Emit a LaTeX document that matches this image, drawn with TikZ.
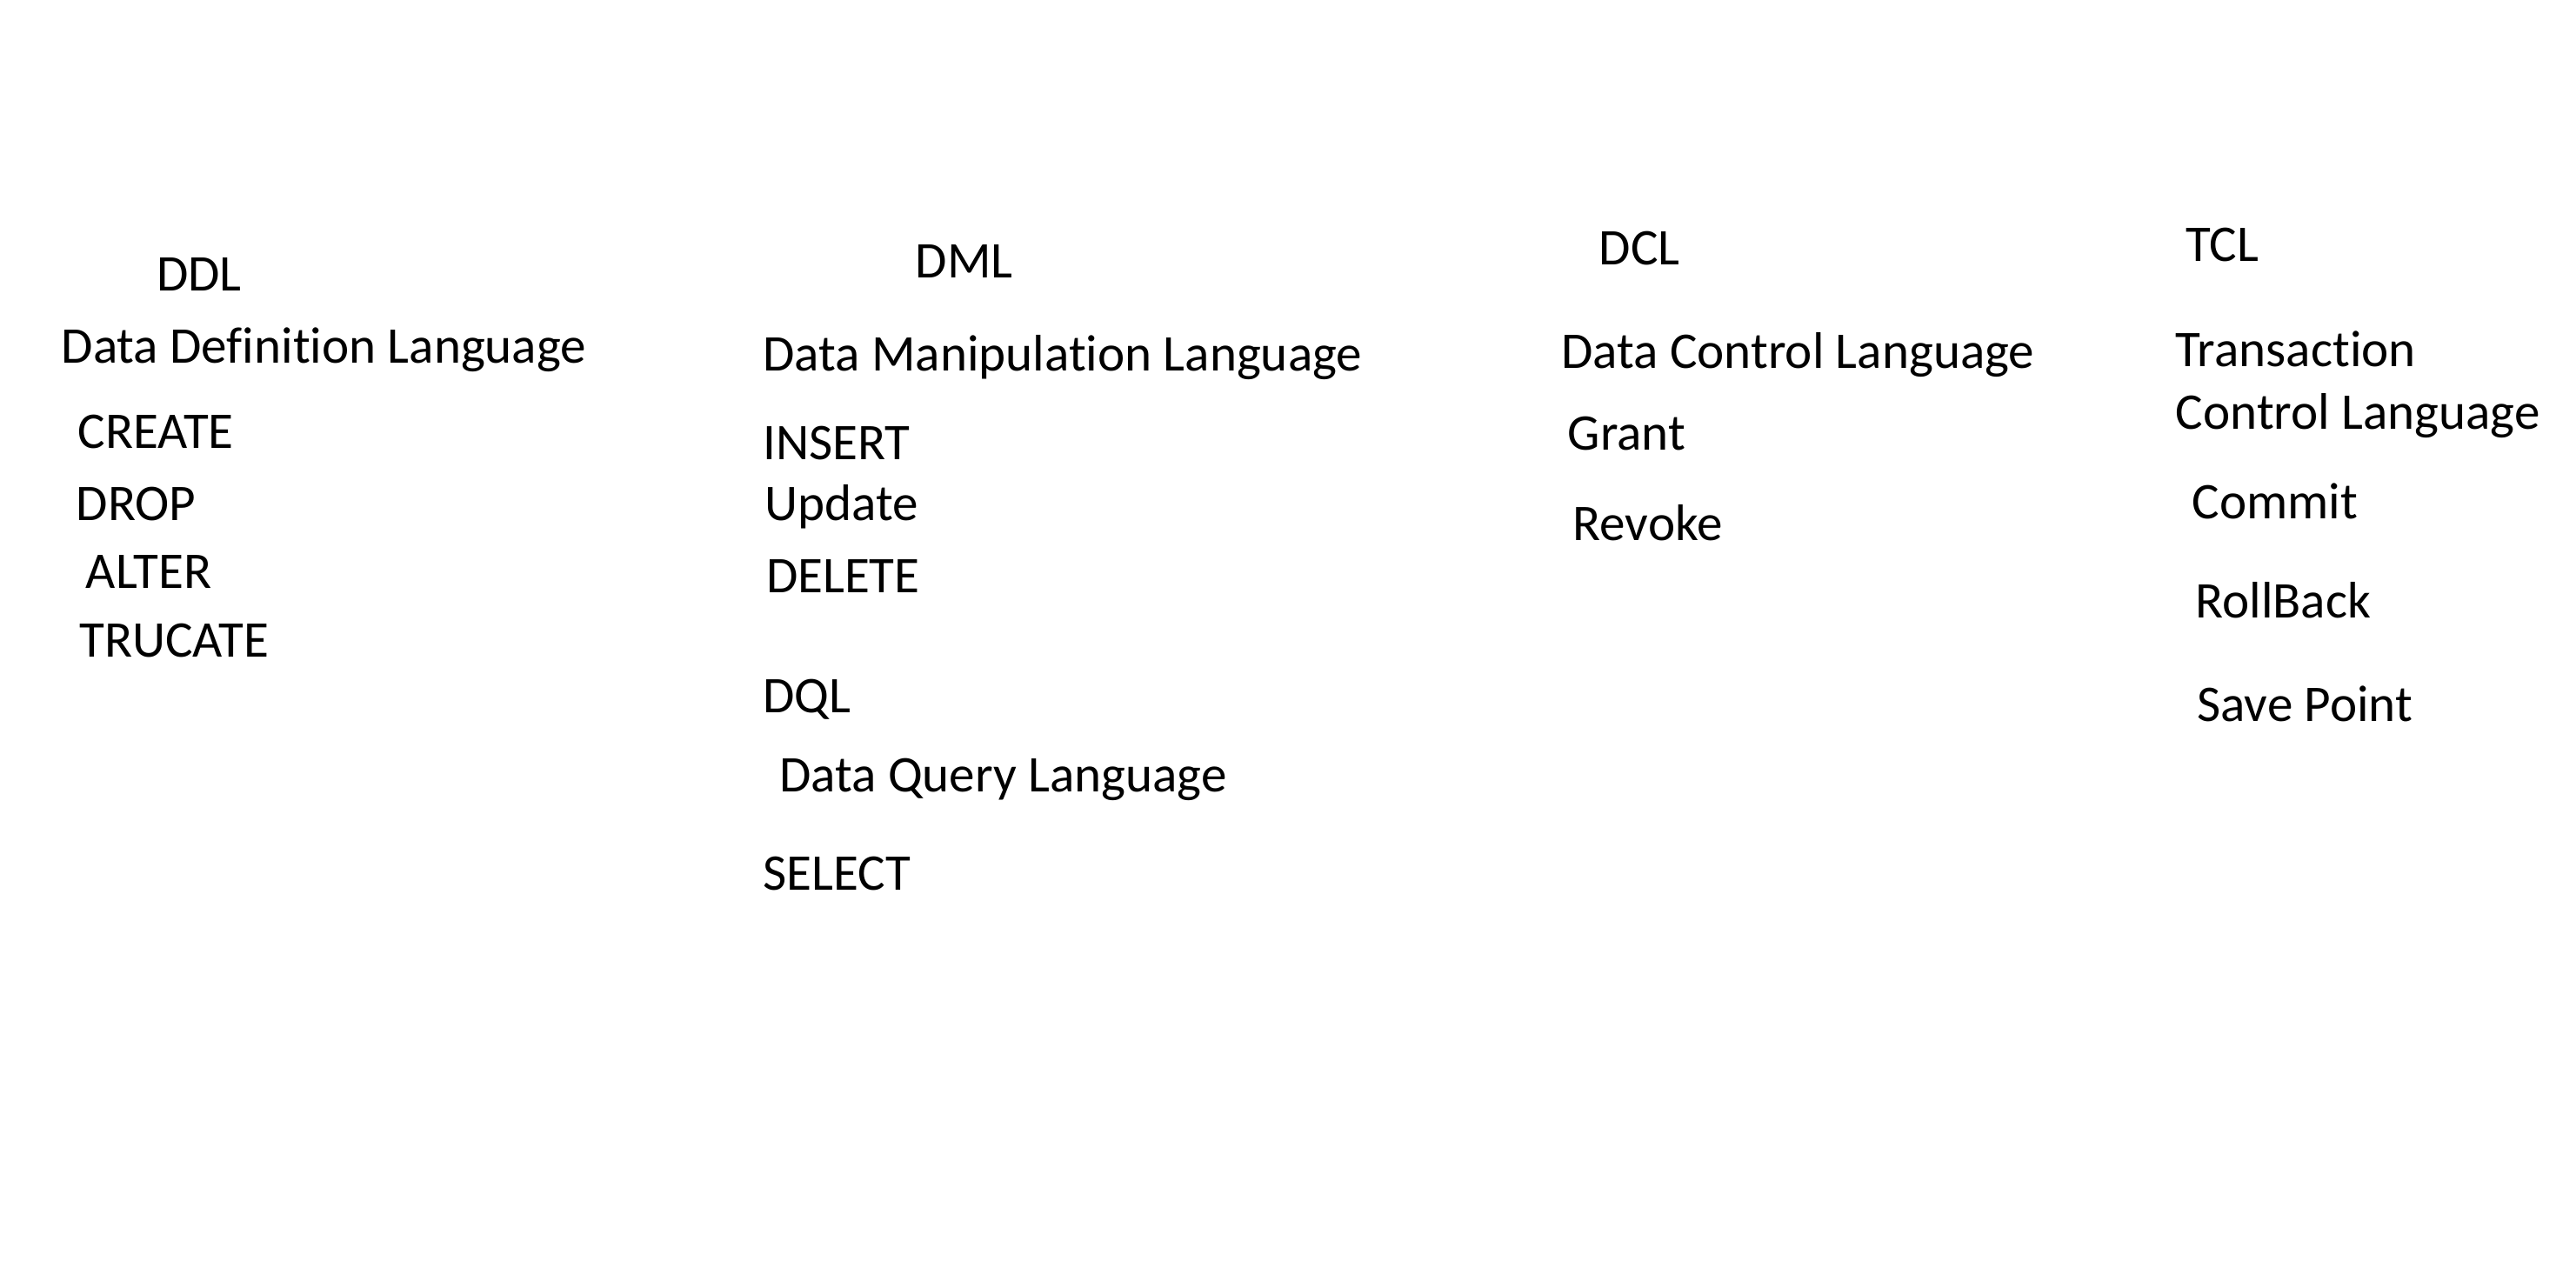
\documentclass[tikz,border=0pt]{standalone}
\usepackage{fontspec}
\setmainfont{Carlito}[Ligatures={NoCommon,NoRare,NoDiscretionary,NoContextual}]
\begin{document}
\begin{tikzpicture}[x=0.5pt,y=-0.5pt,
  lbl/.style={anchor=base west,inner sep=0pt,font=\fontsize{15.65pt}{18pt}\selectfont}]
\useasboundingbox[fill=white] (0,0) rectangle (1568,771.3);
% DDL column
\node[lbl] (ddl) at (95,177) {DDL};
\node[lbl] (ddlf) at (37,221) {Data Definition Language};
\node[lbl] (create) at (47,273) {CREATE};
\node[lbl] (drop) at (46,317) {DROP};
\node[lbl] (alter) at (52,358) {ALTER};
\node[lbl] (trucate) at (48,400) {TRUCATE};
% DML column
\node[lbl] (dml) at (557,169) {DML};
\node[lbl] (dmlf) at (464,226) {Data Manipulation Language};
\node[lbl] (insert) at (464,280) {INSERT};
\node[lbl] (update) at (465,317) {Update};
\node[lbl] (delete) at (466,361) {DELETE};
\node[lbl] (dql) at (464,434) {DQL};
\node[lbl] (dqlf) at (474,482) {Data Query Language};
\node[lbl] (select) at (464,542) {SELECT};
% DCL column
\node[lbl] (dcl) at (973,161) {DCL};
\node[lbl] (dclf) at (950,224) {Data Control Language};
\node[lbl] (grant) at (954,274) {Grant};
\node[lbl] (revoke) at (957,329) {Revoke};
% TCL column
\node[lbl] (tcl) at (1330,159) {TCL};
\node[lbl] (tclf1) at (1324,223) {Transaction};
\node[lbl] (tclf2) at (1324,261) {Control Language};
\node[lbl] (commit) at (1334,316) {Commit};
\node[lbl] (rollback) at (1336,376) {RollBack};
\node[lbl] (savepoint) at (1337,439) {Save Point};
\end{tikzpicture}
\end{document}
